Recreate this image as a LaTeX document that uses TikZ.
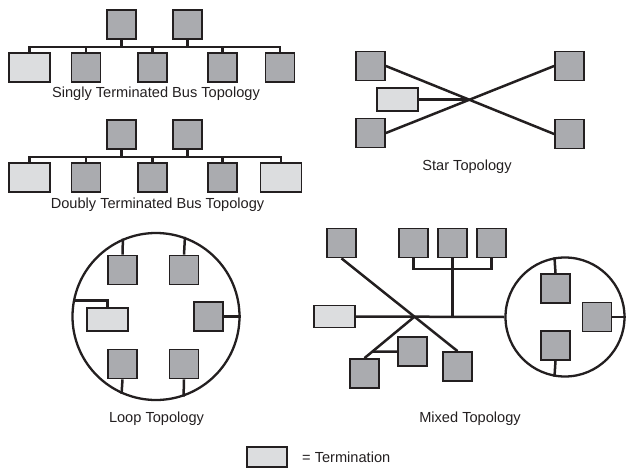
\documentclass[tikz,border=0pt]{standalone}
\usepackage{fontspec}
\setmainfont{Liberation Sans}
\definecolor{boxgray}{RGB}{170,171,175}
\definecolor{termgray}{RGB}{220,221,223}
\definecolor{ink}{RGB}{35,31,32}
\begin{document}
\begin{tikzpicture}[x=1pt,y=-1pt,
  dev/.style={draw=ink,fill=boxgray,line width=1.8pt,minimum width=29pt,minimum height=29pt,inner sep=0pt},
  term/.style={draw=ink,fill=termgray,line width=1.8pt,minimum width=41pt,minimum height=#1,inner sep=0pt},
  term/.default=29pt,
  wire/.style={draw=ink,line width=2.5pt},
  ring/.style={circle,draw=ink,line width=2.3pt,inner sep=0pt},
  lbl/.style={font=\fontsize{14.6}{16}\selectfont,text=ink,anchor=base,inner sep=0pt}]
\useasboundingbox (0,0) rectangle (626,468);

% ---------- Singly terminated bus ----------
\node[dev] (a1) at (121.5,24.5) {};
\node[dev] (a2) at (187.5,24.5) {};
\node[term] (as) at (29.5,67.5) {};
\node[dev] (ab2) at (86,67.5) {};
\node[dev] (ab3) at (152.5,67.5) {};
\node[dev] (ab4) at (222.5,67.5) {};
\node[dev] (ab5) at (280,67.5) {};
\coordinate (abus) at (0,47);
\draw[wire] (as.north) -- (as.north |- abus) -- (ab5.north |- abus) -- (ab5.north);
\draw[wire] (ab2.north) -- (ab2.north |- abus);
\draw[wire] (ab3.north) -- (ab3.north |- abus);
\draw[wire] (ab4.north) -- (ab4.north |- abus);
\draw[wire] (a1.south) -- (a1.south |- abus);
\draw[wire] (a2.south) -- (a2.south |- abus);
\node[lbl] (la) at (156,98) {Singly Terminated Bus Topology};

% ---------- Doubly terminated bus ----------
\node[dev] (b1) at (121.5,134.5) {};
\node[dev] (b2) at (187.5,134.5) {};
\node[term] (bs) at (29.5,177.5) {};
\node[dev] (bb2) at (86,177.5) {};
\node[dev] (bb3) at (152.5,177.5) {};
\node[dev] (bb4) at (222.5,177.5) {};
\node[term] (be) at (281,177.5) {};
\coordinate (bbus) at (0,157);
\draw[wire] (bs.north) -- (bs.north |- bbus) -- (be.north |- bbus) -- (be.north);
\draw[wire] (bb2.north) -- (bb2.north |- bbus);
\draw[wire] (bb3.north) -- (bb3.north |- bbus);
\draw[wire] (bb4.north) -- (bb4.north |- bbus);
\draw[wire] (b1.south) -- (b1.south |- bbus);
\draw[wire] (b2.south) -- (b2.south |- bbus);
\node[lbl] (lb) at (157.5,208) {Doubly Terminated Bus Topology};

% ---------- Star ----------
\node[dev] (stl) at (370.5,66) {};
\node[dev] (sbl) at (370.5,133) {};
\node[dev] (str) at (569.5,66) {};
\node[dev] (sbr) at (569.5,134) {};
\node[term=23pt] (sterm) at (397.5,99.5) {};
\coordinate (shub) at (intersection of stl.east--sbr.west and sbl.east--str.west);
\draw[wire] (stl.east) -- (sbr.west);
\draw[wire] (sbl.east) -- (str.west);
\draw[wire] (sterm.east) -- (sterm.east -| shub);
\node[lbl] (ls) at (467,170) {Star Topology};

% ---------- Loop ----------
\node[ring,minimum size=167pt] (loop) at (156,316.5) {};
\node[dev] (l1) at (122.5,270) {};
\node[dev] (l2) at (184,270) {};
\node[dev] (l3) at (208.5,316.5) {};
\node[dev] (l4) at (122.5,364) {};
\node[dev] (l5) at (184,364) {};
\node[term=23pt] (lterm) at (107.5,319.5) {};
\draw[wire] (l1.north) -- (loop.113.6);
\draw[wire] (l2.north) -- (loop.70.4);
\draw[wire] (l3.east) -- (loop.east);
\draw[wire] (l4.south) -- (loop.246.4);
\draw[wire] (l5.south) -- (loop.289.6);
\draw[wire] (lterm.north) |- (loop.169.3);
\node[lbl] (ll) at (156.5,422) {Loop Topology};

% ---------- Mixed ----------
\node[ring,minimum size=119pt] (mix) at (565,317) {};
\node[dev] (m1) at (341.5,243) {};
\node[dev] (m2) at (413.5,243) {};
\node[dev] (m3) at (452.5,243) {};
\node[dev] (m4) at (491.5,243) {};
\node[term=22pt] (mterm) at (334.5,316.5) {};
\node[dev] (m5) at (364.5,373.5) {};
\node[dev] (m6) at (412.5,351.5) {};
\node[dev] (m7) at (457.5,366.5) {};
\node[dev] (c1) at (555.5,288.5) {};
\node[dev] (c2) at (597,317) {};
\node[dev] (c3) at (555.5,345.5) {};
\coordinate (mhub) at (intersection of m1.south--m7.north and mterm.east--mix.west);
\coordinate (mbr) at (452.5,269);
\coordinate (medge) at (626,317);
\draw[wire] (mterm.east) -- (mix.west);
\draw[wire] (m1.south) -- (m7.north);
\draw[wire] (m2.south) |- (mbr) -| (m4.south);
\draw[wire] (m3.south) -- (m3.south |- mhub);
\draw[wire] (mhub) -- (m5.north);
\coordinate (mbranch) at (intersection of mhub--m5.north and m6.west--m6.east);
\draw[wire] (mbranch) -- (m6.west);
\draw[wire] (c1.north) -- (mix.100);
\draw[wire] (c2.east) -- (medge);
\draw[wire] (c3.south) -- (mix.260);
\node[lbl] (lm) at (470,422) {Mixed Topology};

% ---------- Legend ----------
\node[term=20pt,minimum width=40pt] (legend) at (267,457) {};
\node[lbl,anchor=base west] (legtext) at (302,462) {= Termination};
\end{tikzpicture}
\end{document}
